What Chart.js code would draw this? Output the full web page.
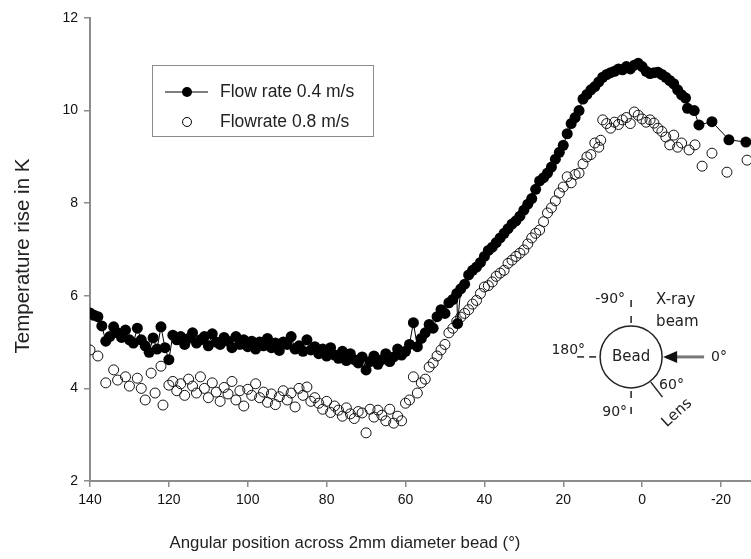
<!DOCTYPE html>
<html>
<head>
<meta charset="utf-8">
<script src="https://cdn.jsdelivr.net/npm/chart.js@4/dist/chart.umd.min.js"></script>
<style>
html,body{margin:0;padding:0;background:#fff;}
#wrap{width:751px;height:559px;position:relative;}
</style>
</head>
<body>
<div id="wrap"><canvas id="c" width="751" height="559"></canvas></div>
<script>
// ---- data ----
const xTicks = [140, 120, 100, 80, 60, 40, 20, 0, -20];
const yTicks = [2, 4, 6, 8, 10, 12];

const angle04 = [140,139,138,137,136,135,134,133,132,131,130,129,128,127,126,125,124,123,122,121,120,
  119,118,117,116,115,114,113,112,111,110,109,108,107,106,105,104,103,102,101,100,
  99,98,97,96,95,94,93,92,91,90,89,88,87,86,85,84,83,82,81,80,
  79,78,77,76,75,74,73,72,71,70,69,68,67,66,65,64,63,62,61,60,
  59,58,57,56,55,54,53,52,51,50,49,48,47,46.8,46,45,44,43,42,41,40,
  39,38,37,36,35,34,33,32,31,30,29,28,27,26,25,24,23,22,21,20,
  19,18,17,16,15,14,13,12,11,10,9,8,7,6,5,4,3,2,1,0,
  -1,-2,-3,-4,-5,-6,-7,-8,-9,-10,-11,-11.5,-13.2,-14.4,-17.7,-22,-26.3];
const temp04 = [5.63,5.58,5.55,5.35,5.02,5.12,5.33,5.20,5.10,5.26,5.05,4.98,5.30,5.05,4.92,4.78,5.09,4.85,5.33,4.88,4.62,
  5.15,5.05,5.12,4.95,5.08,5.20,4.98,5.05,5.12,4.92,5.18,5.00,4.95,5.10,5.02,4.88,5.12,4.95,5.05,4.90,
  5.02,4.85,5.00,4.92,5.08,4.88,4.98,4.82,5.00,4.95,5.12,4.85,4.92,4.80,5.05,4.83,4.90,4.75,4.85,4.70,
  4.88,4.72,4.65,4.80,4.60,4.75,4.62,4.55,4.68,4.40,4.58,4.70,4.52,4.62,4.75,4.58,4.68,4.85,4.72,4.80,
  4.95,5.42,4.90,5.08,5.20,5.38,5.30,5.55,5.70,5.62,5.85,5.92,6.05,5.40,6.15,6.25,6.45,6.55,6.62,6.72,6.85,
  6.98,7.05,7.15,7.25,7.35,7.45,7.55,7.62,7.72,7.85,7.98,8.10,8.30,8.48,8.55,8.65,8.78,8.95,9.10,9.25,
  9.50,9.72,9.85,10.00,10.25,10.35,10.45,10.52,10.62,10.72,10.78,10.82,10.85,10.90,10.88,10.95,10.90,10.98,11.02,10.95,
  10.85,10.80,10.82,10.83,10.78,10.72,10.65,10.58,10.45,10.34,10.27,10.05,10.00,9.69,9.76,9.37,9.32];

const angle08 = [140,138,136,134,133,131,130,128,127,126,124.5,123.5,122,121.5,120,
  119,118,117,116,115,114,113,112,111,110,109,108,107,106,105,104,103,102,101,100,
  99,98,97,96,95,94,93,92,91,90,89,88,87,86,85,84,83,82,81,80,
  79,78,77,76,75,74,73,72,71,70,69,68,67,66,65,64,63,62,61,60,
  59,58,57,56,55,54,53,52,51,50,49,48,47,46,45,44,43,42,41,40,
  39,38,37,36,35,34,33,32,31,30,29,28,27,26,25,24,23,22,21,20,
  19,18,17,16,15,14,13,12,11,10.5,10,9,8,7,6,5,4,3,2,1,0,
  -1,-2,-3,-4,-5,-6,-7,-8,-9,-10,-11.9,-13.4,-15.2,-17.7,-21.5,-26.6];
const temp08 = [4.83,4.70,4.12,4.40,4.18,4.25,4.05,4.22,4.00,3.75,4.33,3.90,4.48,3.64,4.07,
  4.15,3.95,4.10,3.85,4.20,4.05,3.90,4.25,4.00,3.80,4.12,3.92,3.72,4.02,3.88,4.15,3.75,3.95,3.62,3.98,
  3.85,4.10,3.80,3.92,3.70,3.88,3.65,3.82,3.95,3.75,3.90,3.60,4.00,3.85,4.03,3.72,3.80,3.68,3.55,3.72,
  3.48,3.62,3.53,3.40,3.58,3.45,3.35,3.50,3.47,3.04,3.55,3.38,3.53,3.42,3.30,3.55,3.25,3.40,3.30,3.68,
  3.75,4.25,3.90,4.12,4.20,4.46,4.55,4.70,4.83,4.95,5.20,5.30,5.45,5.54,5.62,5.70,5.82,5.90,6.05,6.19,
  6.22,6.30,6.42,6.49,6.55,6.70,6.77,6.85,6.92,6.99,7.12,7.25,7.35,7.42,7.60,7.79,7.90,8.05,8.22,8.35,
  8.57,8.44,8.62,8.65,8.85,9.00,9.05,9.30,9.21,9.36,9.80,9.72,9.62,9.75,9.70,9.80,9.85,9.72,9.97,9.90,9.82,
  9.75,9.80,9.73,9.62,9.55,9.43,9.26,9.47,9.21,9.30,9.15,9.26,8.80,9.08,8.67,8.93];

const seriesNames = ['Flow rate 0.4 m/s', 'Flowrate 0.8 m/s'];
const xTitle = 'Angular position across 2mm diameter bead (°)';
const yTitle = 'Temperature rise in K';

const pts04 = angle04.map((a, i) => ({x: a, y: temp04[i]}));
const pts08 = angle08.map((a, i) => ({x: a, y: temp08[i]}));

const FONT = '"Liberation Sans", Arial, sans-serif';
const AXIS = '#8c8c8c';

const decor = {
  id: 'decor',
  afterDraw(chart) {
    const ctx = chart.ctx;
    const ca = chart.chartArea;
    const xs = chart.scales.x, ys = chart.scales.y;
    ctx.save();
    // axis titles
    ctx.fillStyle = '#222';
    ctx.font = '16.8px ' + FONT;
    ctx.textAlign = 'center';
    ctx.textBaseline = 'middle';
    ctx.fillText(xTitle, 345, 543);
    ctx.save();
    ctx.translate(23, 256);
    ctx.rotate(-Math.PI / 2);
    ctx.font = '20.5px ' + FONT;
    ctx.fillText(yTitle, 0, 0);
    ctx.restore();

    // legend box
    const lx = ca.left + 62, ly = ca.top + 47;
    ctx.strokeStyle = '#8c8c8c';
    ctx.lineWidth = 1;
    ctx.strokeRect(lx + 0.5, ly + 0.5, 221, 71);
    ctx.strokeStyle = '#000';
    ctx.beginPath();
    ctx.moveTo(lx + 13, ly + 27); ctx.lineTo(lx + 56, ly + 27); ctx.stroke();
    ctx.fillStyle = '#000';
    ctx.beginPath(); ctx.arc(lx + 35, ly + 27, 5, 0, Math.PI * 2); ctx.fill();
    ctx.beginPath(); ctx.arc(lx + 35, ly + 57, 4.5, 0, Math.PI * 2); ctx.stroke();
    ctx.fillStyle = '#222';
    ctx.font = '17.5px ' + FONT;
    ctx.textAlign = 'left';
    ctx.fillText(seriesNames[0], lx + 68, ly + 27);
    ctx.fillText(seriesNames[1], lx + 68, ly + 57);

    // inset diagram
    const cx = xs.getPixelForValue(2.8), cy = ys.getPixelForValue(4.68), r = 31;
    ctx.strokeStyle = '#222';
    ctx.lineWidth = 1.5;
    ctx.beginPath(); ctx.arc(cx, cy, r, 0, Math.PI * 2); ctx.stroke();
    const seg = (x1, y1, x2, y2) => { ctx.beginPath(); ctx.moveTo(x1, y1); ctx.lineTo(x2, y2); ctx.stroke(); };
    ctx.lineWidth = 1.5;
    seg(cx, cy - r - 3, cx, cy - r - 10);
    seg(cx, cy - r - 19, cx, cy - r - 26);
    seg(cx, cy + r + 3, cx, cy + r + 10);
    seg(cx, cy + r + 19, cx, cy + r + 26);
    seg(cx - r - 4, cy, cx - r - 11, cy);
    seg(cx - r - 16, cy, cx - r - 23, cy);
    const ang = 52 * Math.PI / 180;
    seg(cx + Math.cos(ang) * (r + 1), cy + Math.sin(ang) * (r + 1), cx + Math.cos(ang) * (r + 20), cy + Math.sin(ang) * (r + 20));
    // arrow
    ctx.strokeStyle = '#777';
    ctx.lineWidth = 3;
    seg(cx + r + 12, cy, cx + r + 42, cy);
    ctx.fillStyle = '#111';
    ctx.beginPath();
    ctx.moveTo(cx + r + 1, cy);
    ctx.lineTo(cx + r + 15, cy - 6);
    ctx.lineTo(cx + r + 15, cy + 6);
    ctx.closePath(); ctx.fill();

    ctx.fillStyle = '#222';
    ctx.font = '15px "DejaVu Sans", sans-serif';
    ctx.textAlign = 'center';
    ctx.fillText('Bead', cx, cy);
    ctx.font = '14px "DejaVu Sans", sans-serif';
    ctx.textAlign = 'right';
    ctx.fillText('-90°', cx - 6, cy - 58);
    ctx.fillText('180°', cx - 46, cy - 7);
    ctx.fillText('90°', cx - 4, cy + 55);
    ctx.textAlign = 'left';
    ctx.fillText('0°', cx + 80, cy);
    ctx.fillText('60°', cx + 28, cy + 28);
    ctx.font = '15px "DejaVu Sans", sans-serif';
    ctx.fillText('X-ray', cx + 25, cy - 57);
    ctx.fillText('beam', cx + 25, cy - 35);
    ctx.save();
    ctx.translate(cx + 46, cy + 56);
    ctx.rotate(-42 * Math.PI / 180);
    ctx.textAlign = 'center';
    ctx.fillText('Lens', 0, 0);
    ctx.restore();
    ctx.restore();
  }
};

new Chart(document.getElementById('c'), {
  type: 'scatter',
  data: {
    datasets: [
      {
        label: seriesNames[0],
        data: pts04,
        showLine: true,
        borderColor: '#000',
        borderWidth: 1,
        pointRadius: 5.5,
        pointBackgroundColor: '#000',
        pointBorderColor: '#000',
        pointBorderWidth: 0
      },
      {
        label: seriesNames[1],
        data: pts08,
        showLine: false,
        pointRadius: 5,
        pointBackgroundColor: 'rgba(0,0,0,0)',
        pointBorderColor: '#111',
        pointBorderWidth: 1
      }
    ]
  },
  options: {
    responsive: false,
    animation: false,
    layout: { autoPadding: false, padding: { top: 18, right: 0, left: 0, bottom: 0 } },
    plugins: { legend: { display: false }, tooltip: { enabled: false } },
    scales: {
      x: {
        type: 'linear',
        reverse: true,
        min: -27.6,
        max: 140,
        afterBuildTicks: (axis) => { axis.ticks = xTicks.map(v => ({value: v})); },
        afterFit: (axis) => { axis.height = 78; },
        grid: { display: true, drawOnChartArea: false, drawTicks: true, tickLength: 6, color: AXIS, lineWidth: 1.5 },
        border: { display: true, color: AXIS, width: 2 },
        ticks: { color: '#111', font: { family: FONT, size: 14 }, padding: 5, maxRotation: 0,
                 callback: (v) => String(v) }
      },
      y: {
        type: 'linear',
        min: 2,
        max: 12,
        afterBuildTicks: (axis) => { axis.ticks = yTicks.map(v => ({value: v})); },
        afterFit: (axis) => { axis.width = 90; },
        grid: { display: true, drawOnChartArea: false, drawTicks: true, tickLength: 6, color: AXIS, lineWidth: 1.5 },
        border: { display: true, color: AXIS, width: 2 },
        ticks: { color: '#111', font: { family: FONT, size: 14 }, padding: 6,
                 callback: (v) => String(v) }
      }
    }
  },
  plugins: [decor]
});
</script>
</body>
</html>
